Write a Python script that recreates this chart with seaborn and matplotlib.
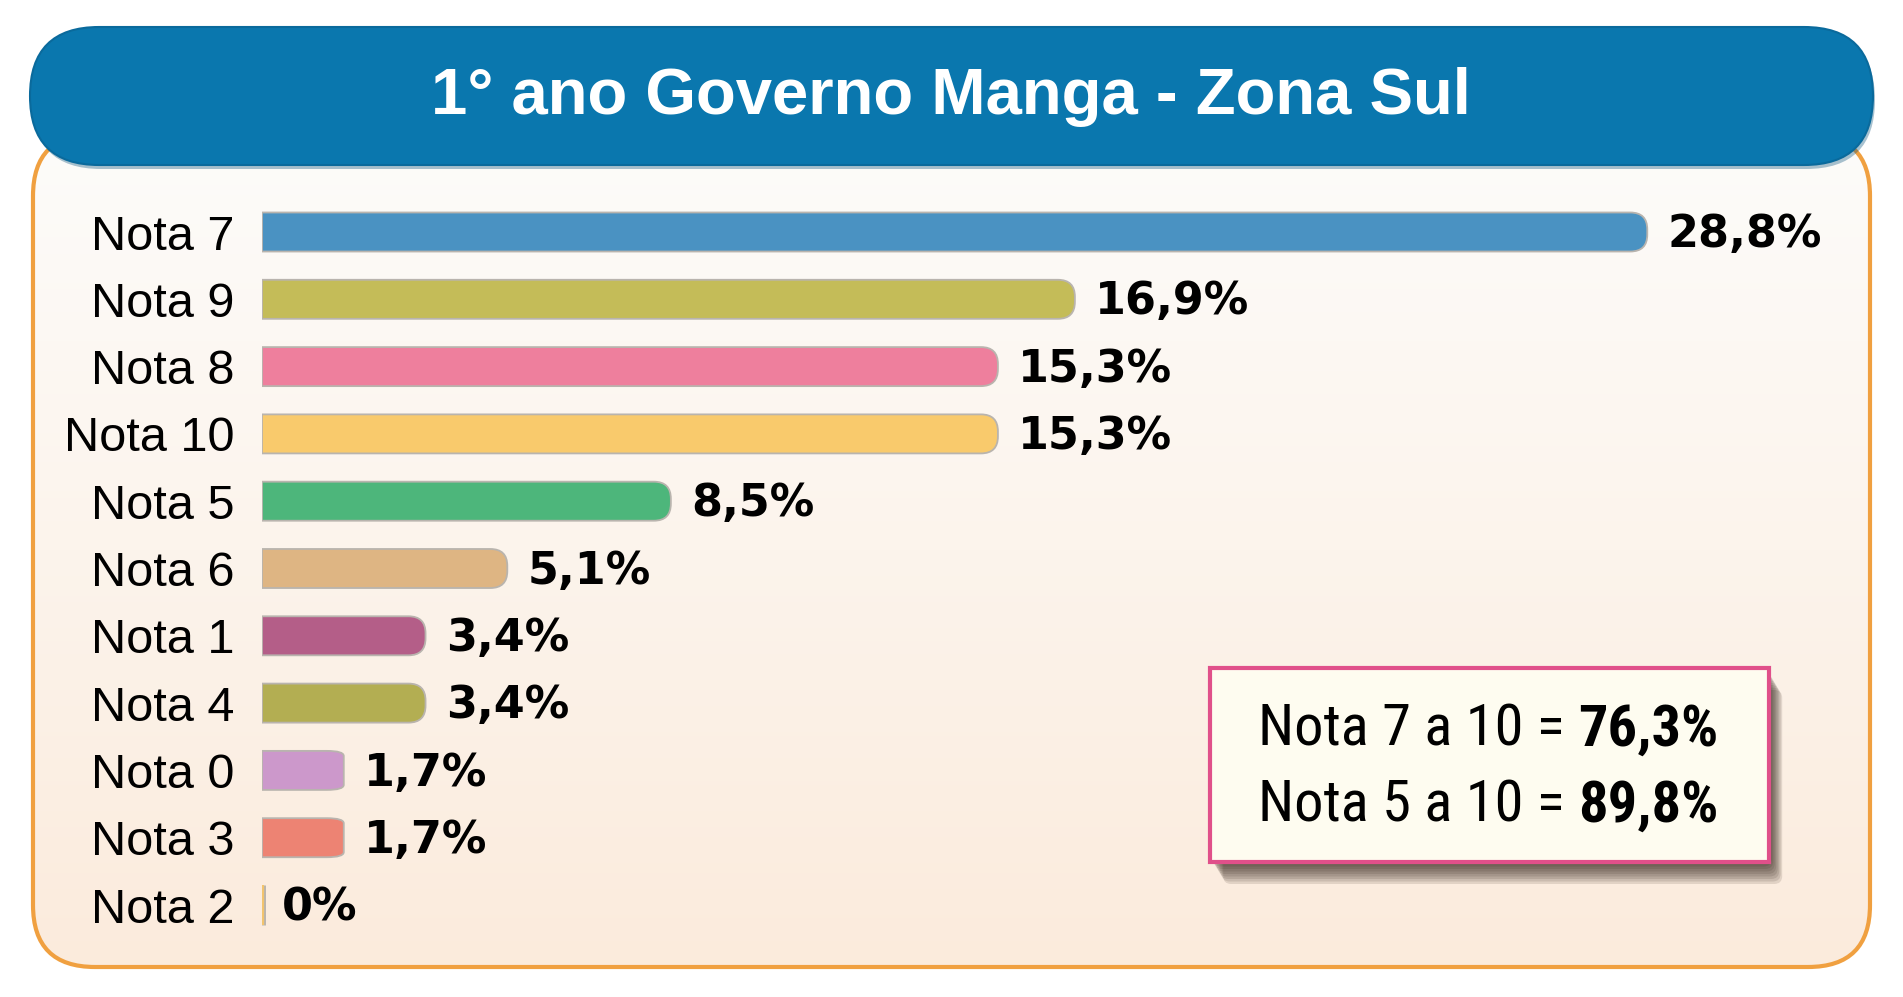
import numpy as np
import matplotlib
matplotlib.use("Agg")
import matplotlib.pyplot as plt
from matplotlib import font_manager as fm
from matplotlib.patches import FancyBboxPatch, PathPatch, Rectangle
from matplotlib.path import Path
from matplotlib.colors import LinearSegmentedColormap
import seaborn as sns

# dados
categorias = ["Nota 7", "Nota 9", "Nota 8", "Nota 10", "Nota 5", "Nota 6",
              "Nota 1", "Nota 4", "Nota 0", "Nota 3", "Nota 2"]
valores = [28.8, 16.9, 15.3, 15.3, 8.5, 5.1, 3.4, 3.4, 1.7, 1.7, 0.0]
cores = ["#4a92c2", "#c4bc58", "#ee7f9d", "#f9ca6c", "#4db67b", "#deb583",
         "#b45e88", "#b3ae52", "#cc98cb", "#ed8373", "#f2c46e"]
titulo = "1° ano Governo Manga - Zona Sul"
resumo_txt = ["Nota 7 a 10 = ", "Nota 5 a 10 = "]
resumo_val = ["76,3%", "89,8%"]


def fmt(v):
    if v == 0:
        return "0%"
    return f"{v:.1f}".replace(".", ",") + "%"


def fonte_estreita():
    # procura uma fonte condensada instalada (regular e negrito)
    nomes = ["Liberation Sans Narrow", "Roboto Condensed", "Open Sans Condensed",
             "Noto Sans Condensed", "DejaVu Sans Condensed"]
    lista = fm.fontManager.ttflist
    for nome in nomes:
        reg = [f for f in lista if f.name == nome and f.style == "normal"]
        if reg:
            def peso(f):
                w = f.weight
                return w if isinstance(w, int) else {"normal": 400, "regular": 400, "bold": 700}.get(str(w), 400)
            r = min(reg, key=lambda f: abs(peso(f) - 400))
            b = min(reg, key=lambda f: abs(peso(f) - 700))
            return fm.FontProperties(fname=r.fname), fm.FontProperties(fname=b.fname), 42
    for base in ["DejaVu Sans", "Noto Sans", "Open Sans"]:
        reg = [f for f in lista if f.name == base and f.style == "normal"
               and str(f.stretch) in ("condensed", "semi-condensed", "extra-condensed")]
        if reg:
            r = [f for f in reg if str(f.weight) in ("400", "normal", "regular")] or reg
            b = [f for f in reg if str(f.weight) in ("700", "bold")] or reg
            return fm.FontProperties(fname=r[0].fname), fm.FontProperties(fname=b[0].fname), 40
    return (fm.FontProperties(family="Liberation Sans"),
            fm.FontProperties(family="Liberation Sans", weight="bold"), 37)


W, H = 1903, 997
sns.set_style("white")
plt.rcParams["font.family"] = ["Liberation Sans", "DejaVu Sans"]
fig = plt.figure(figsize=(W / 100, H / 100), dpi=100)
fig.patch.set_facecolor("white")

# fundo em coordenadas de pixel
bg = fig.add_axes([0, 0, 1, 1], zorder=0)
bg.set_xlim(0, W)
bg.set_ylim(H, 0)
bg.axis("off")

caixa = FancyBboxPatch((33, 134), 1837, 833,
                       boxstyle="round,pad=0,rounding_size=62",
                       facecolor="none", edgecolor="#f0a040", linewidth=3, zorder=3)
bg.add_patch(caixa)
grad = np.linspace(0, 1, 256).reshape(-1, 1)
cmap = LinearSegmentedColormap.from_list("fundo", ["#fdfcfa", "#fcf4ec", "#fbebdc"])
im = bg.imshow(grad, cmap=cmap, extent=(33, 1870, 967, 134), aspect="auto", zorder=1)
clip = FancyBboxPatch((33, 134), 1837, 833, boxstyle="round,pad=0,rounding_size=62",
                      transform=bg.transData, facecolor="none")
im.set_clip_path(clip)

# faixa do título
bg.add_patch(FancyBboxPatch((32, 31), 1843, 138, boxstyle="round,pad=0,rounding_size=69",
                            facecolor="#06507a", edgecolor="none", alpha=0.35, zorder=4))
bg.add_patch(FancyBboxPatch((30, 27), 1843, 138, boxstyle="round,pad=0,rounding_size=69",
                            facecolor="#0a77ae", edgecolor="#0a6a9c", linewidth=1.5, zorder=5))
bg.text(951, 97, titulo, color="white", fontsize=47, fontweight="bold",
        ha="center", va="center", zorder=6)

# caixa de resumo com sombra
for i in range(8):
    off = 22 - i * 2.5
    bg.add_patch(FancyBboxPatch((1210 + off * 0.6, 668 + off), 559, 194,
                                boxstyle="round,pad=0,rounding_size=8",
                                facecolor="#2a1a10", edgecolor="none", alpha=0.12, zorder=7))
bg.add_patch(Rectangle((1210, 668), 559, 194, facecolor="#fefcf0",
                       edgecolor="#e0508a", linewidth=3, zorder=8))

# gráfico de barras
ax_l, ax_r = 262, 1870
top_c, passo = 232, 67.3
ax_top = top_c - passo / 2
ax_h = passo * len(categorias)
ax = fig.add_axes([ax_l / W, 1 - (ax_top + ax_h) / H, (ax_r - ax_l) / W, ax_h / H], zorder=2)
ax.patch.set_alpha(0)

sns.barplot(x=valores, y=categorias, hue=categorias, palette=cores, legend=False,
            orient="h", width=0.58, saturation=1, ax=ax)
px_x = 48.1
ax.set_xlim(0, (ax_r - ax_l) / px_x)
ax.set_ylim(len(categorias) - 0.5, -0.5)

rx = 17 / px_x
ry = 17 / passo
for p in list(ax.patches):
    x0, y0, w, h = p.get_x(), p.get_y(), p.get_width(), p.get_height()
    fc = p.get_facecolor()
    p.set_visible(False)
    x1, y1 = x0 + w, y0 + h
    r = min(rx, w * 0.5)
    ryy = ry if w > 3 else ry * 0.3
    if w > 0:
        verts = [(x0, y0), (x1 - r, y0), (x1, y0), (x1, y0 + ryy), (x1, y1 - ryy),
                 (x1, y1), (x1 - r, y1), (x0, y1), (x0, y0)]
        codes = [Path.MOVETO, Path.LINETO, Path.CURVE3, Path.CURVE3, Path.LINETO,
                 Path.CURVE3, Path.CURVE3, Path.LINETO, Path.CLOSEPOLY]
    else:
        verts = [(x0, y0), (x0, y1)]
        codes = [Path.MOVETO, Path.LINETO]
    ax.add_patch(PathPatch(Path(verts, codes), facecolor=fc, edgecolor="#b9b4ae",
                           linewidth=1.3 if w > 0 else 5, zorder=3))
    if w == 0:
        ax.add_patch(PathPatch(Path(verts, codes), facecolor="none", edgecolor=fc,
                               linewidth=3, zorder=4))

for i, v in enumerate(valores):
    ax.text(v + 0.42, i + 0.04, fmt(v), fontsize=32, fontweight="bold",
            family=["DejaVu Sans"], va="center", ha="left", color="black")

ax.set_xlabel("")
ax.set_ylabel("")
ax.set_xticks([])
ax.tick_params(axis="y", length=0, pad=20, labelsize=35, labelcolor="black")
sns.despine(ax=ax, left=True, bottom=True)

# textos do resumo
fp_reg, fp_bold, tam = fonte_estreita()
fp_reg.set_size(tam)
fp_bold.set_size(tam)
fig.canvas.draw()
rend = fig.canvas.get_renderer()
for k, yy in enumerate([730, 806]):
    t = bg.text(1258, yy, resumo_txt[k], fontproperties=fp_reg,
                ha="left", va="center", zorder=9, color="black")
    bb = t.get_window_extent(renderer=rend)
    xe = bg.transData.inverted().transform((bb.x1, bb.y0))[0]
    bg.text(xe, yy, resumo_val[k], fontproperties=fp_bold,
            ha="left", va="center", zorder=9, color="black")

fig.savefig("out.png", dpi=100)
